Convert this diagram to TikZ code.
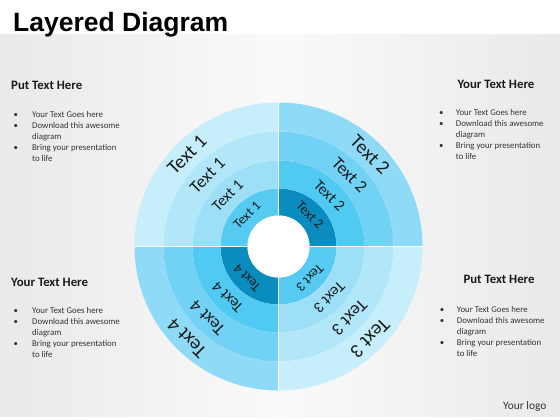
\documentclass[tikz,border=0pt]{standalone}
\usepackage{fontspec}
\setmainfont{Carlito}
\newfontfamily\titlefont{Liberation Sans}
\usetikzlibrary{calc}

\definecolor{ringA1}{HTML}{57CAF2}
\definecolor{ringA2}{HTML}{9EDFF8}
\definecolor{ringA3}{HTML}{B2E6F9}
\definecolor{ringA4}{HTML}{C6EEFB}
\definecolor{ringB1}{HTML}{0A8CBE}
\definecolor{ringB2}{HTML}{50C9F3}
\definecolor{ringB3}{HTML}{72D2F5}
\definecolor{ringB4}{HTML}{8FDAF6}
\definecolor{inktext}{HTML}{1A1A1A}
\definecolor{bodytext}{HTML}{333333}
\pgfdeclarehorizontalshading{bandshade}{100bp}{%
  color(0bp)=(gray!30); color(50bp)=(gray!4); color(100bp)=(gray!30)}

\newcommand\bulletblock[1]{%
  \begin{tabular}[t]{@{}p{#1}@{}l@{}}
  \textbullet & Your Text Goes here\\
  \textbullet & Download this awesome\\
              & diagram\\
  \textbullet & Bring your presentation\\
              & to life
  \end{tabular}}

\begin{document}
\begin{tikzpicture}[x=1pt, y=1pt,
  heading/.style={anchor=base west, inner sep=0pt, text=inktext,
    font=\fontsize{12.8}{14}\selectfont\bfseries},
  bodylist/.style={anchor=base west, inner sep=0pt, text=bodytext,
    font=\fontsize{8.8}{11}\selectfont},
  ringlabel/.style={inner sep=0pt, text=inktext}]

\useasboundingbox (0,0) rectangle (560,420);
\fill[white] (0,0) rectangle (560,420);
\shade[shading=bandshade] (0,3) rectangle (560,385);

% title
\node[anchor=base west, inner sep=0pt, font=\titlefont\fontsize{26.5}{30}\selectfont\bfseries]
  (title) at (13,388) {Layered Diagram};

% rings
\coordinate (c) at (278.5,173.5);
\foreach \ang/\set in {90/A, 0/B, 270/A, 180/B}{
  \foreach \ri/\ro/\k in {31/58/1, 58/86/2, 86/115/3, 115/144/4}{
    \fill[ring\set\k, shift={(c)}] (\ang:\ro)
      arc[start angle=\ang, end angle=\ang+90, radius=\ro]
      -- (\ang+90:\ri)
      arc[start angle=\ang+90, end angle=\ang, radius=\ri] -- cycle;
  }
}
\fill[white] (c) circle[radius=31];
\draw[white, line width=0.5pt, shift={(c)}] (0,31) -- (0,144) (0,-31) -- (0,-144)
  (31,0) -- (144,0) (-31,0) -- (-144,0);

% ring labels
\foreach \q/\ang in {1/135, 2/45, 3/-45, 4/225}{
  \foreach \k/\rad/\sz in {1/44.5/13.5, 2/72/15.5, 3/100.5/17.5, 4/129.5/19.5}{
    \node[ringlabel, rotate=\ang-90, font=\fontsize{\sz}{\sz}\selectfont]
      (t\q\k) at ($(c)+(\ang:\rad)$) {Text \q};
  }
}

% side texts
\node[heading] (headTL) at (11,330) {Put Text Here};
\node[bodylist] (listTL) at (13.5,302.7) {\bulletblock{18.5pt}};

\node[heading] (headTR) at (457.3,331.7) {Your Text Here};
\node[bodylist] (listTR) at (439,304) {\bulletblock{16.7pt}};

\node[heading] (headBL) at (11,133.3) {Your Text Here};
\node[bodylist] (listBL) at (13.5,106.7) {\bulletblock{18.5pt}};

\node[heading] (headBR) at (463.3,136) {Put Text Here};
\node[bodylist] (listBR) at (439.7,107.7) {\bulletblock{17pt}};

\node[anchor=base west, inner sep=0pt, text=bodytext, font=\fontsize{11.4}{13}\selectfont]
  (logo) at (503,10) {Your logo};
\end{tikzpicture}
\end{document}
